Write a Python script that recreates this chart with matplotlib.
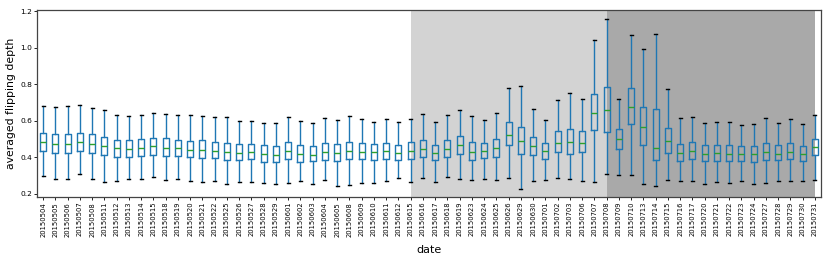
import matplotlib
matplotlib.use("Agg")
import matplotlib.pyplot as plt

dates = [
    "20150504", "20150505", "20150506", "20150507", "20150508", "20150511", "20150512",
    "20150513", "20150514", "20150515", "20150518", "20150519", "20150520", "20150521",
    "20150522", "20150525", "20150526", "20150527", "20150528", "20150529", "20150601",
    "20150602", "20150603", "20150604", "20150605", "20150608", "20150609", "20150610",
    "20150611", "20150612", "20150615", "20150616", "20150617", "20150618", "20150619",
    "20150623", "20150624", "20150625", "20150626", "20150629", "20150630", "20150701",
    "20150702", "20150703", "20150706", "20150707", "20150708", "20150709", "20150710",
    "20150713", "20150714", "20150715", "20150716", "20150717", "20150720", "20150721",
    "20150722", "20150723", "20150724", "20150727", "20150728", "20150729", "20150730",
    "20150731",
]

# whisker ends, quartiles and medians
whis_hi = [
    0.680, 0.678, 0.682, 0.685, 0.673, 0.660, 0.634, 0.625, 0.633, 0.644, 0.640,
    0.630, 0.630, 0.625, 0.622, 0.622, 0.601, 0.601, 0.589, 0.589, 0.620,
    0.598, 0.589, 0.614, 0.605, 0.625, 0.609, 0.596, 0.609, 0.594, 0.612, 0.636,
    0.596, 0.634, 0.662, 0.627, 0.607, 0.644, 0.778, 0.793, 0.667, 0.603,
    0.715, 0.751, 0.722, 1.041, 1.160, 0.722, 1.072, 0.994, 1.078, 0.775, 0.616,
    0.622, 0.587, 0.592, 0.596, 0.580, 0.583, 0.614, 0.589, 0.609, 0.583, 0.634,
]
q3 = [
    0.532, 0.529, 0.529, 0.536, 0.529, 0.512, 0.497, 0.494, 0.499, 0.507, 0.507,
    0.497, 0.490, 0.494, 0.485, 0.481, 0.472, 0.475, 0.466, 0.461, 0.483,
    0.466, 0.461, 0.479, 0.474, 0.486, 0.479, 0.474, 0.479, 0.468, 0.483, 0.494,
    0.470, 0.496, 0.515, 0.485, 0.479, 0.501, 0.592, 0.569, 0.512, 0.477,
    0.543, 0.554, 0.547, 0.748, 0.788, 0.558, 0.778, 0.676, 0.665, 0.563, 0.474,
    0.486, 0.468, 0.468, 0.468, 0.463, 0.461, 0.479, 0.468, 0.477, 0.461, 0.501,
]
medians = [
    0.483, 0.475, 0.475, 0.486, 0.475, 0.461, 0.450, 0.448, 0.452, 0.461, 0.452,
    0.452, 0.441, 0.441, 0.435, 0.432, 0.426, 0.430, 0.421, 0.414, 0.435,
    0.419, 0.415, 0.428, 0.425, 0.435, 0.432, 0.430, 0.435, 0.422, 0.435, 0.444,
    0.425, 0.448, 0.466, 0.432, 0.437, 0.452, 0.525, 0.492, 0.461, 0.435,
    0.481, 0.483, 0.481, 0.644, 0.660, 0.503, 0.676, 0.569, 0.450, 0.490, 0.426,
    0.437, 0.421, 0.425, 0.421, 0.419, 0.417, 0.432, 0.421, 0.432, 0.421, 0.455,
]
q1 = [
    0.435, 0.426, 0.426, 0.435, 0.426, 0.414, 0.403, 0.403, 0.408, 0.414, 0.410,
    0.408, 0.400, 0.397, 0.397, 0.388, 0.384, 0.390, 0.377, 0.373, 0.392,
    0.377, 0.379, 0.386, 0.381, 0.392, 0.392, 0.386, 0.390, 0.384, 0.392, 0.403,
    0.388, 0.403, 0.417, 0.388, 0.399, 0.403, 0.468, 0.419, 0.411, 0.393,
    0.428, 0.419, 0.428, 0.552, 0.537, 0.448, 0.581, 0.466, 0.384, 0.422, 0.382,
    0.392, 0.379, 0.381, 0.381, 0.381, 0.375, 0.386, 0.384, 0.390, 0.379, 0.411,
]
whis_lo = [
    0.296, 0.280, 0.280, 0.311, 0.282, 0.267, 0.271, 0.280, 0.280, 0.293, 0.278,
    0.280, 0.269, 0.266, 0.271, 0.253, 0.267, 0.267, 0.262, 0.256, 0.262,
    0.269, 0.256, 0.278, 0.244, 0.249, 0.262, 0.258, 0.271, 0.288, 0.267, 0.288,
    0.264, 0.293, 0.282, 0.275, 0.284, 0.275, 0.289, 0.225, 0.273, 0.275,
    0.288, 0.284, 0.269, 0.264, 0.311, 0.302, 0.304, 0.253, 0.245, 0.275, 0.273,
    0.271, 0.256, 0.264, 0.260, 0.269, 0.256, 0.258, 0.273, 0.269, 0.271, 0.278,
]

# shaded periods (first and last date of each)
light_span = ("20150615", "20150708")
dark_span = ("20150708", "20150731")

stats = []
for i, d in enumerate(dates):
    stats.append({"label": d, "whislo": whis_lo[i], "q1": q1[i], "med": medians[i],
                  "q3": q3[i], "whishi": whis_hi[i], "fliers": []})

fig = plt.figure(figsize=(8.3, 2.6), dpi=100)
ax = fig.add_axes([0.0446, 0.2423, 0.9446, 0.7192])

pos = list(range(1, len(dates) + 1))
ax.axvspan(dates.index(light_span[0]) + 1, dates.index(light_span[1]) + 1,
           color="lightgray", zorder=0, lw=0)
ax.axvspan(dates.index(dark_span[0]) + 1, dates.index(dark_span[1]) + 1,
           color="darkgray", zorder=0, lw=0)

ax.bxp(stats, positions=pos, widths=0.5, showfliers=False,
       boxprops=dict(color="#1f77b4", lw=1.0),
       whiskerprops=dict(color="#1f77b4", lw=1.0),
       capprops=dict(color="black", lw=1.0),
       medianprops=dict(color="#2ca02c", lw=1.0))

ax.set_xlim(0.5, len(dates) + 0.5)
ax.set_ylim(0.183, 1.207)
ax.set_yticks([0.2, 0.4, 0.6, 0.8, 1.0, 1.2])
ax.set_xticks(pos)
ax.set_xticklabels(dates, rotation=90, fontsize=4.9)
ax.tick_params(axis="y", labelsize=5.4, length=2, width=0.6, pad=1.5)
ax.tick_params(axis="x", length=2, width=0.6, pad=1.5)
for s in ax.spines.values():
    s.set_color("#444444")
    s.set_linewidth(0.9)
ax.set_xlabel("date", fontsize=8, labelpad=6)
ax.set_ylabel("averaged flipping depth", fontsize=7.8, labelpad=3)

fig.savefig("out.png", dpi=100)
